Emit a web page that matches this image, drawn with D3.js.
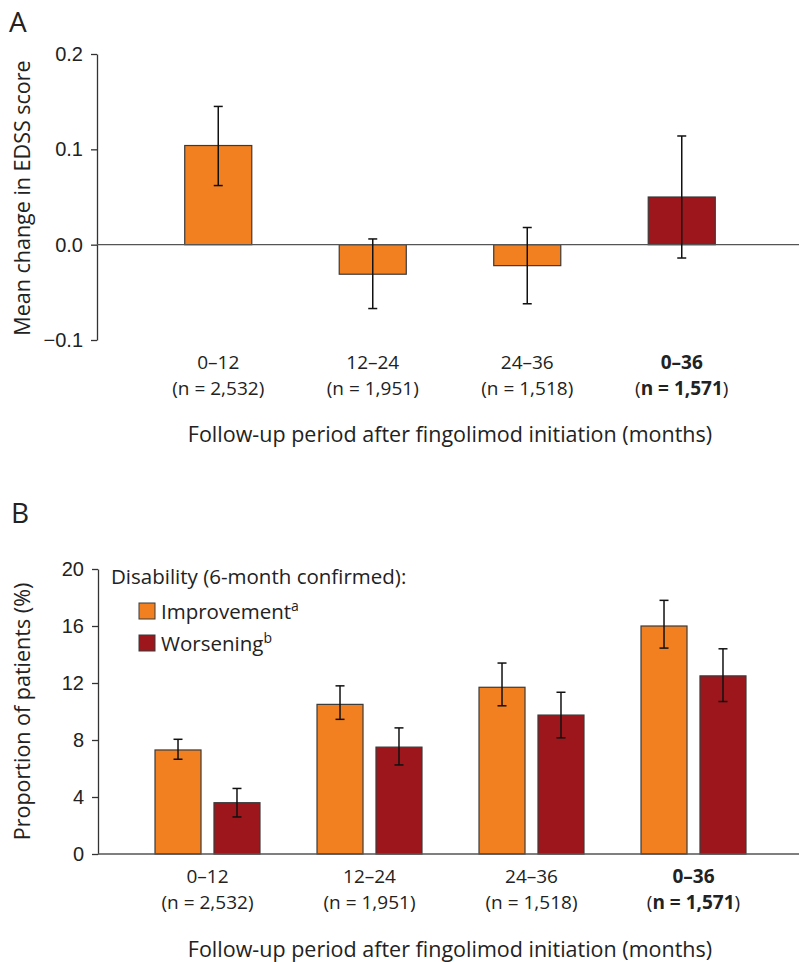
<!DOCTYPE html>
<html>
<head>
<meta charset="utf-8">
<script src="https://cdn.jsdelivr.net/npm/d3@7"></script>
<style>
  body { margin: 0; background: #fff; }
  svg { display: block; font-family: "Open Sans", sans-serif; }
  .tick text { font-size: 20px; fill: #222; }
  .cat-label { font-size: 19px; fill: #222; }
  .legend-label { font-size: 20.5px; fill: #222; }
  .axis-title { font-size: 21.5px; fill: #222; }
  .panel-label { font-size: 28px; fill: #222; }
</style>
</head>
<body>
<svg id="chart"></svg>
<script>
/* Data */
const periods = ["0–12", "12–24", "24–36", "0–36"];
const nCounts = ["2,532", "1,951", "1,518", "1,571"];

/* Panel A: mean change in EDSS with error bars */
const edssMean = [0.104, -0.031, -0.022, 0.050];
const edssLow = [0.062, -0.067, -0.062, -0.014];
const edssHigh = [0.145, 0.006, 0.018, 0.114];
const yTicksA = [-0.1, 0.0, 0.1, 0.2];

/* Panel B: proportion of patients (%) */
const seriesNames = ["Improvement", "Worsening"];
const seriesSup = ["a", "b"];
const improveVal = [7.3, 10.5, 11.7, 16.0];
const improveLow = [6.65, 9.45, 10.4, 14.45];
const improveHigh = [8.05, 11.8, 13.4, 17.8];
const worsenVal = [3.6, 7.5, 9.75, 12.5];
const worsenLow = [2.6, 6.25, 8.15, 10.7];
const worsenHigh = [4.6, 8.85, 11.35, 14.4];
const yTicksB = [0, 4, 8, 12, 16, 20];

/* Setup */
const width = 799, height = 962;
const orange = "#f28020", darkRed = "#9c161c";

const svg = d3.select("#chart")
    .attr("width", width)
    .attr("height", height);

/* ---------- Panel A ---------- */
const axisXA = 97;
const yA = d3.scaleLinear().domain([-0.1, 0.2]).range([340, 54]);
const xA = d3.scaleBand()
    .domain(periods)
    .range([141, 759])
    .paddingInner(0.566)
    .paddingOuter(0.283);

svg.append("text").attr("class", "panel-label").attr("x", 9).attr("y", 32).text("A");

const gA = svg.append("g");

gA.append("g")
    .attr("transform", `translate(${axisXA},0)`)
    .call(d3.axisLeft(yA).tickValues(yTicksA).tickFormat(d3.format(".1f")).tickSize(6).tickSizeOuter(0).tickPadding(8))
    .call(g => g.selectAll("line, path").attr("stroke", "#333").attr("stroke-width", 1.3))
    .call(g => g.selectAll("text").attr("font-family", null).attr("font-size", null));

const dataA = periods.map((p, i) => ({ p, v: edssMean[i], lo: edssLow[i], hi: edssHigh[i], overall: i === 3 }));

gA.selectAll(".barA")
    .data(dataA)
    .join("rect")
      .attr("x", d => xA(d.p))
      .attr("y", d => yA(Math.max(0, d.v)))
      .attr("width", xA.bandwidth())
      .attr("height", d => Math.abs(yA(d.v) - yA(0)))
      .attr("fill", d => d.overall ? darkRed : orange)
      .attr("stroke", "#3a3a3a")
      .attr("stroke-width", 1.2);

/* zero line */
gA.append("line")
    .attr("x1", axisXA).attr("x2", width)
    .attr("y1", yA(0)).attr("y2", yA(0))
    .attr("stroke", "#555").attr("stroke-width", 1.4);

function errorBars(g, rows, xc, y) {
  const cap = 4.5;
  const eb = g.selectAll(null).data(rows).join("g")
      .attr("stroke", "#111").attr("stroke-width", 1.5);
  eb.append("line").attr("x1", xc).attr("x2", xc).attr("y1", d => y(d.lo)).attr("y2", d => y(d.hi));
  eb.append("line").attr("x1", d => xc(d) - cap).attr("x2", d => xc(d) + cap).attr("y1", d => y(d.hi)).attr("y2", d => y(d.hi));
  eb.append("line").attr("x1", d => xc(d) - cap).attr("x2", d => xc(d) + cap).attr("y1", d => y(d.lo)).attr("y2", d => y(d.lo));
}
errorBars(gA, dataA, d => xA(d.p) + xA.bandwidth() / 2, yA);

/* two-line category label: period, then (n = ...) */
function categoryLabels(g, xc, y1, y2) {
  periods.forEach((p, i) => {
    const bold = i === 3;
    g.append("text").attr("class", "cat-label")
        .attr("x", xc(p)).attr("y", y1).attr("text-anchor", "middle")
        .attr("font-weight", bold ? "bold" : "normal")
        .text(p);
    const t = g.append("text").attr("class", "cat-label")
        .attr("x", xc(p)).attr("y", y2).attr("text-anchor", "middle");
    t.append("tspan").text("(");
    t.append("tspan").attr("font-weight", bold ? "bold" : "normal").text("n = " + nCounts[i]);
    t.append("tspan").text(")");
  });
}
categoryLabels(gA, p => xA(p) + xA.bandwidth() / 2, 369, 395);

gA.append("text").attr("class", "axis-title")
    .attr("x", 450).attr("y", 442).attr("text-anchor", "middle")
    .text("Follow-up period after fingolimod initiation (months)");

gA.append("text").attr("class", "axis-title")
    .attr("transform", `translate(30, ${(yA(-0.1) + yA(0.2)) / 2 + 1}) rotate(-90)`)
    .attr("text-anchor", "middle")
    .text("Mean change in EDSS score");

/* ---------- Panel B ---------- */
const axisXB = 98;
const yB = d3.scaleLinear().domain([0, 20]).range([854, 569]);
const xB = d3.scaleBand()
    .domain(periods)
    .range([126.5, 774.5])
    .paddingInner(0.352)
    .paddingOuter(0.176);
const xS = d3.scaleBand()
    .domain(seriesNames)
    .range([0, xB.bandwidth()])
    .paddingInner(0.22);

svg.append("text").attr("class", "panel-label").attr("x", 11).attr("y", 523).text("B");

const gB = svg.append("g");

gB.append("g")
    .attr("transform", `translate(${axisXB},0)`)
    .call(d3.axisLeft(yB).tickValues(yTicksB).tickSize(6).tickSizeOuter(0).tickPadding(8))
    .call(g => g.selectAll("line, path").attr("stroke", "#333").attr("stroke-width", 1.3))
    .call(g => g.selectAll("text").attr("font-family", null).attr("font-size", null));

const dataB = [];
periods.forEach((p, i) => {
  dataB.push({ p, s: seriesNames[0], v: improveVal[i], lo: improveLow[i], hi: improveHigh[i], fill: orange });
  dataB.push({ p, s: seriesNames[1], v: worsenVal[i], lo: worsenLow[i], hi: worsenHigh[i], fill: darkRed });
});

gB.selectAll(".barB")
    .data(dataB)
    .join("rect")
      .attr("x", d => xB(d.p) + xS(d.s))
      .attr("y", d => yB(d.v))
      .attr("width", xS.bandwidth())
      .attr("height", d => yB(0) - yB(d.v))
      .attr("fill", d => d.fill)
      .attr("stroke", "#3a3a3a")
      .attr("stroke-width", 1.2);

/* baseline */
gB.append("line")
    .attr("x1", axisXB).attr("x2", width)
    .attr("y1", yB(0)).attr("y2", yB(0))
    .attr("stroke", "#555").attr("stroke-width", 1.4);

errorBars(gB, dataB, d => xB(d.p) + xS(d.s) + xS.bandwidth() / 2, yB);

categoryLabels(gB, p => xB(p) + xB.bandwidth() / 2, 882.5, 908.5);

gB.append("text").attr("class", "axis-title")
    .attr("x", 450).attr("y", 957).attr("text-anchor", "middle")
    .text("Follow-up period after fingolimod initiation (months)");

gB.append("text").attr("class", "axis-title")
    .attr("transform", `translate(30, ${(yB(0) + yB(20)) / 2}) rotate(-90)`)
    .attr("text-anchor", "middle")
    .text("Proportion of patients (%)");

/* Legend */
const legend = gB.append("g");
legend.append("text").attr("class", "legend-label")
    .attr("x", 111).attr("y", 584)
    .attr("font-size", "21.3px")
    .text("Disability (6-month confirmed):");

const legendRows = legend.selectAll(".lg")
    .data(seriesNames)
    .join("g")
      .attr("transform", (d, i) => `translate(139, ${603 + i * 32})`);
legendRows.append("rect")
    .attr("width", 16).attr("height", 16)
    .attr("fill", (d, i) => i === 0 ? orange : darkRed)
    .attr("stroke", "#3a3a3a").attr("stroke-width", 1);
const lt = legendRows.append("text").attr("class", "legend-label")
    .attr("x", 22).attr("y", 15.5);
lt.append("tspan").text(d => d);
lt.append("tspan").attr("font-size", "14px").attr("dy", -8).text((d, i) => seriesSup[i]);
</script>
</body>
</html>
